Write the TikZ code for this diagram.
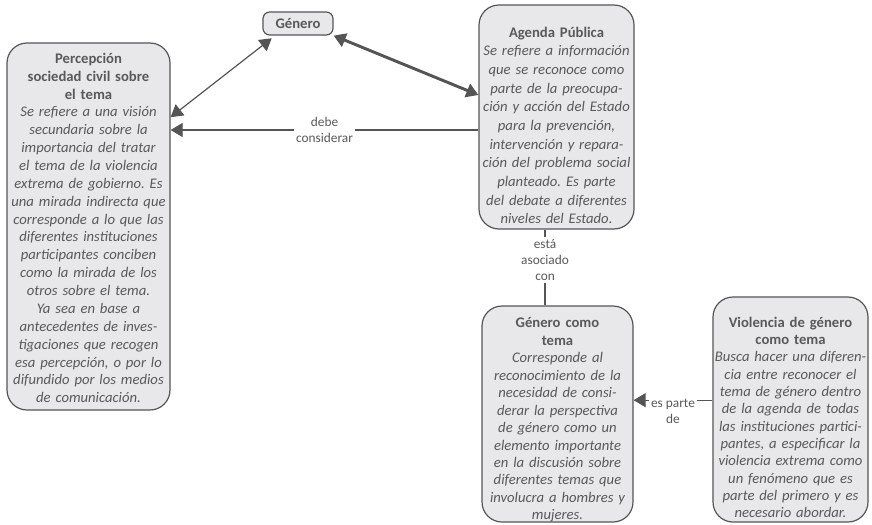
\documentclass[tikz,border=0pt]{standalone}
\usepackage{fontspec}
\setmainfont{Carlito}
\usetikzlibrary{arrows.meta}
\definecolor{boxgray}{HTML}{E8E8EA}
\definecolor{txtgray}{HTML}{595959}
\definecolor{linegray}{HTML}{555555}
\frenchspacing

\begin{document}
\begin{tikzpicture}[x=.75pt,y=-.75pt,
  conceptbox/.style={draw=linegray,fill=boxgray,line width=.9pt,rounded corners=15pt},
  concepttext/.style={text=txtgray,align=center,inner sep=0pt,font=\fontsize{11}{14}\selectfont},
  linkword/.style={fill=white,text=txtgray,align=center,inner sep=1.5pt,
    font=\fontsize{10}{12}\selectfont},
  link/.style={draw=linegray,line width=.9pt},
  tip/.style={-{Triangle[length=9pt,width=10.5pt]}},
  tips/.style={{Triangle[length=9pt,width=10.5pt]}-{Triangle[length=9pt,width=10.5pt]}}]
\useasboundingbox (0,0) rectangle (872,525);

% concepts
\node[conceptbox,concepttext,rounded corners=5pt,minimum width=52.5pt,minimum height=17.25pt] (genero) at (298,23.5)
  {\textbf{Género}};

\node[conceptbox,minimum width=122.25pt,minimum height=275.25pt] (perc) at (88.5,226.5) {};
\node[concepttext,text width=120pt,font=\fontsize{11}{13.4}\selectfont] at ([yshift=-1.1pt]perc.center)
  {\textbf{Percepción\\sociedad civil sobre\\el tema}\\
   \textit{Se refiere a una visión\\secundaria sobre la\\importancia del tratar\\el tema de la violencia\\extrema de gobierno. Es\\una mirada indirecta que\\corresponde a lo que las\\diferentes instituciones\\participantes conciben\\como la mirada de los\\otros sobre el tema.\\Ya sea en base a\\antecedentes de inves-\\tigaciones que recogen\\esa percepción, o por lo\\difundido por los medios\\de comunicación.}};

\node[conceptbox,minimum width=116.25pt,minimum height=168pt] (agenda) at (556.5,117) {};
\node[concepttext,text width=114pt] at ([yshift=-6.4pt]agenda.center)
  {\textbf{Agenda Pública}\\
   \textit{Se refiere a información\\que se reconoce como\\parte de la preocupa-\\ción y acción del Estado\\para la prevención,\\intervención y repara-\\ción del problema social\\planteado. Es parte\\del debate a diferentes\\niveles del Estado.}};

\node[conceptbox,minimum width=113.25pt,minimum height=162pt] (gct) at (557.5,414) {};
\node[concepttext,text width=111pt,font=\fontsize{11}{13.1}\selectfont] at ([yshift=-4.5pt]gct.center)
  {\textbf{Género como\\tema}\\
   \textit{Corresponde al\\reconocimiento de la\\necesidad de consi-\\derar la perspectiva\\de género como un\\elemento importante\\en la discusión sobre\\diferentes temas que\\involucra a hombres y\\mujeres.}};

\node[conceptbox,minimum width=116.25pt,minimum height=168.75pt] (viol) at (790.5,409.5) {};
\node[concepttext,text width=114pt,font=\fontsize{11}{13}\selectfont] at ([yshift=-6pt]viol.center)
  {\textbf{Violencia de género\\como tema}\\
   \textit{Busca hacer una diferen-\\cia entre reconocer el\\tema de género dentro\\de la agenda de todas\\las instituciones partici-\\pantes, a especificar la\\violencia extrema como\\un fenómeno que es\\parte del primero y es\\necesario abordar.}};

% links
\draw[link,tips] ([yshift=82pt]perc.east) -- ([xshift=7pt,yshift=-2pt]genero.south west);
\draw[link,tips,line width=2.2pt] (genero.south east) -- ([yshift=16.5pt]agenda.west);
\draw[link,tip] ([yshift=-9.75pt]agenda.west) coordinate (a1) -- (a1 -| perc.east)
  node[linkword,midway] {debe\\considerar};
\draw[link] ([xshift=-8.6pt]agenda.south) coordinate (a2) -- (a2 |- gct.north)
  node[linkword,pos=.4] {está\\asociado\\con};
\draw[link,tip] ([yshift=7pt]viol.west) coordinate (a3) -- (a3 -| gct.east)
  node[linkword,midway,yshift=-8pt] {es parte\\de};
\end{tikzpicture}
\end{document}
